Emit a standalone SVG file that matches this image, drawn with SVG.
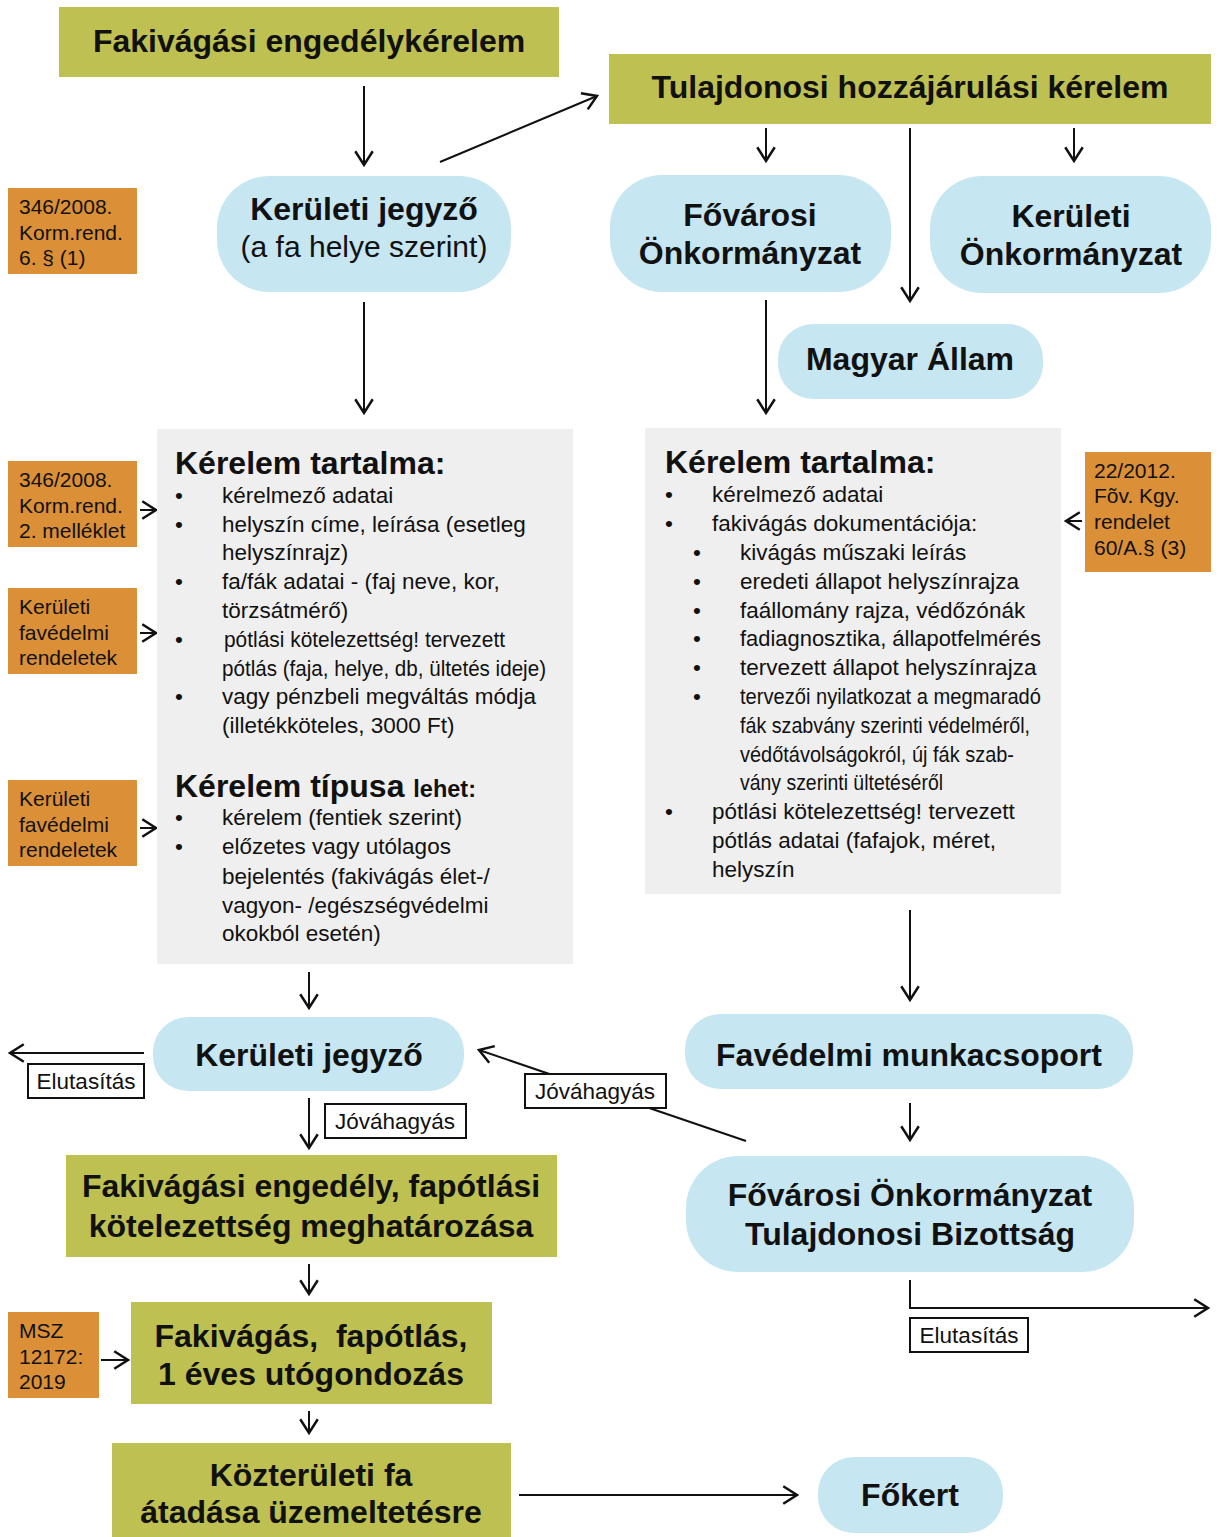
<svg xmlns="http://www.w3.org/2000/svg" width="1220" height="1537" viewBox="0 0 1220 1537">
<defs>
<marker id="ah" markerUnits="userSpaceOnUse" markerWidth="20" markerHeight="20" viewBox="-12 -8 14 16" refX="0" refY="0" orient="auto">
<path d="M-11,-7 L0,0 L-11,7" fill="none" stroke="#111" stroke-width="2"/>
</marker>
<style>
text{font-family:"Liberation Sans",Arial,sans-serif;fill:#111}
.g{fill:#BEC152}
.b{fill:#C6E6F2}
.o{fill:#DB8F37}
.gr{fill:#EFEFEF}
.t{font-size:32px;font-weight:bold;text-anchor:middle}
.tr{font-size:30px;text-anchor:middle}
.s{font-size:21px}
.p{font-size:22.5px}
.h{font-size:32px;font-weight:bold}
.lb{fill:#fff;stroke:#111;stroke-width:2}
.lt{font-size:22.5px;text-anchor:middle}
.c{fill:none;stroke:#111;stroke-width:2}
</style>
</defs>

<g id="connectors">
<line class="c" x1="364" y1="86" x2="364" y2="165" marker-end="url(#ah)"/>
<line class="c" x1="440" y1="162" x2="597" y2="96" marker-end="url(#ah)"/>
<line class="c" x1="766" y1="128" x2="766" y2="161" marker-end="url(#ah)"/>
<line class="c" x1="1074" y1="128" x2="1074" y2="161" marker-end="url(#ah)"/>
<line class="c" x1="910" y1="128" x2="910" y2="301" marker-end="url(#ah)"/>
<line class="c" x1="364" y1="302" x2="364" y2="413" marker-end="url(#ah)"/>
<line class="c" x1="766" y1="300" x2="766" y2="413" marker-end="url(#ah)"/>
<line class="c" x1="140" y1="510" x2="156" y2="510" marker-end="url(#ah)"/>
<line class="c" x1="140" y1="633" x2="156" y2="633" marker-end="url(#ah)"/>
<line class="c" x1="140" y1="828" x2="156" y2="828" marker-end="url(#ah)"/>
<line class="c" x1="1082" y1="521" x2="1066" y2="521" marker-end="url(#ah)"/>
<line class="c" x1="309" y1="972" x2="309" y2="1008" marker-end="url(#ah)"/>
<line class="c" x1="910" y1="910" x2="910" y2="1000" marker-end="url(#ah)"/>
<line class="c" x1="144" y1="1053" x2="10" y2="1053" marker-end="url(#ah)"/>
<line class="c" x1="309" y1="1098" x2="309" y2="1148" marker-end="url(#ah)"/>
<line class="c" x1="746" y1="1141" x2="479" y2="1050" marker-end="url(#ah)"/>
<line class="c" x1="910" y1="1103" x2="910" y2="1140" marker-end="url(#ah)"/>
<polyline class="c" points="910,1280 910,1308 1208,1308" marker-end="url(#ah)"/>
<line class="c" x1="309" y1="1264" x2="309" y2="1294" marker-end="url(#ah)"/>
<line class="c" x1="101" y1="1360" x2="128" y2="1360" marker-end="url(#ah)"/>
<line class="c" x1="309" y1="1411" x2="309" y2="1433" marker-end="url(#ah)"/>
<line class="c" x1="519" y1="1495" x2="797" y2="1495" marker-end="url(#ah)"/>
</g>

<g id="n-fakivagasi-kerelem">
<rect class="g" x="59" y="7" width="500" height="70"/>
<text class="t" x="309" y="52">Fakivágási engedélykérelem</text>
</g>
<g id="n-tulajdonosi-kerelem">
<rect class="g" x="609" y="54" width="602" height="70"/>
<text class="t" x="910" y="98">Tulajdonosi hozzájárulási kérelem</text>
</g>
<g id="n-ref-1">
<rect class="o" x="8" y="188" width="129" height="86"/>
<text class="s" x="19" y="214">346/2008.</text>
<text class="s" x="19" y="240">Korm.rend.</text>
<text class="s" x="19" y="265">6. § (1)</text>
</g>
<g id="n-keruleti-jegyzo-1">
<rect class="b" x="217" y="176" width="294" height="116" rx="52"/>
<text class="t" x="364" y="220">Kerületi jegyző</text>
<text class="tr" x="364" y="257">(a fa helye szerint)</text>
</g>
<g id="n-fovarosi-onk">
<rect class="b" x="610" y="175" width="281" height="117" rx="52"/>
<text class="t" x="750" y="226">Fővárosi</text>
<text class="t" x="750" y="264">Önkormányzat</text>
</g>
<g id="n-keruleti-onk">
<rect class="b" x="930" y="176" width="281" height="117" rx="52"/>
<text class="t" x="1071" y="227">Kerületi</text>
<text class="t" x="1071" y="265">Önkormányzat</text>
</g>
<g id="n-magyar-allam">
<rect class="b" x="778" y="324" width="265" height="75" rx="35"/>
<text class="t" x="910" y="370">Magyar Állam</text>
</g>

<g id="n-kerelem-bal">
<rect class="gr" x="157" y="429" width="416" height="535"/>
<text class="h" x="175" y="474">Kérelem tartalma:</text>
<text class="p" x="175" y="503">•</text><text class="p" x="222" y="503">kérelmező adatai</text>
<text class="p" x="175" y="532">•</text><text class="p" x="222" y="532">helyszín címe, leírása (esetleg</text>
<text class="p" x="222" y="560">helyszínrajz)</text>
<text class="p" x="175" y="589">•</text><text class="p" x="222" y="589">fa/fák adatai - (faj neve, kor,</text>
<text class="p" x="222" y="618">törzsátmérő)</text>
<text class="p" x="175" y="647">•</text><text class="p" x="224" y="647" textLength="281" lengthAdjust="spacingAndGlyphs">pótlási kötelezettség! tervezett</text>
<text class="p" x="222" y="676" textLength="324" lengthAdjust="spacingAndGlyphs">pótlás (faja, helye, db, ültetés ideje)</text>
<text class="p" x="175" y="704">•</text><text class="p" x="222" y="704">vagy pénzbeli megváltás módja</text>
<text class="p" x="222" y="733">(illetékköteles, 3000 Ft)</text>
<text class="h" x="175" y="797">Kérelem típusa <tspan style="font-size:23.5px">lehet:</tspan></text>
<text class="p" x="175" y="825">•</text><text class="p" x="222" y="825">kérelem (fentiek szerint)</text>
<text class="p" x="175" y="854">•</text><text class="p" x="222" y="854">előzetes vagy utólagos</text>
<text class="p" x="222" y="884">bejelentés (fakivágás élet-/</text>
<text class="p" x="222" y="913">vagyon- /egészségvédelmi</text>
<text class="p" x="222" y="941">okokból esetén)</text>
</g>

<g id="n-kerelem-jobb">
<rect class="gr" x="645" y="428" width="416" height="466"/>
<text class="h" x="665" y="473">Kérelem tartalma:</text>
<text class="p" x="665" y="502">•</text><text class="p" x="712" y="502">kérelmező adatai</text>
<text class="p" x="665" y="531">•</text><text class="p" x="712" y="531">fakivágás dokumentációja:</text>
<text class="p" x="693" y="560">•</text><text class="p" x="740" y="560">kivágás műszaki leírás</text>
<text class="p" x="693" y="589">•</text><text class="p" x="740" y="589">eredeti állapot helyszínrajza</text>
<text class="p" x="693" y="618">•</text><text class="p" x="740" y="618">faállomány rajza, védőzónák</text>
<text class="p" x="693" y="646">•</text><text class="p" x="740" y="646" textLength="301" lengthAdjust="spacingAndGlyphs">fadiagnosztika, állapotfelmérés</text>
<text class="p" x="693" y="675">•</text><text class="p" x="740" y="675">tervezett állapot helyszínrajza</text>
<text class="p" x="693" y="704">•</text><text class="p" x="740" y="704" textLength="301" lengthAdjust="spacingAndGlyphs">tervezői nyilatkozat a megmaradó</text>
<text class="p" x="740" y="733" textLength="290" lengthAdjust="spacingAndGlyphs">fák szabvány szerinti védelméről,</text>
<text class="p" x="740" y="762" textLength="274" lengthAdjust="spacingAndGlyphs">védőtávolságokról, új fák szab-</text>
<text class="p" x="740" y="790" textLength="203" lengthAdjust="spacingAndGlyphs">vány szerinti ültetéséről</text>
<text class="p" x="665" y="819">•</text><text class="p" x="712" y="819">pótlási kötelezettség! tervezett</text>
<text class="p" x="712" y="848">pótlás adatai (fafajok, méret,</text>
<text class="p" x="712" y="877">helyszín</text>
</g>

<g id="n-ref-2">
<rect class="o" x="8" y="461" width="129" height="86"/>
<text class="s" x="19" y="487">346/2008.</text>
<text class="s" x="19" y="513">Korm.rend.</text>
<text class="s" x="19" y="538">2. melléklet</text>
</g>
<g id="n-ref-3">
<rect class="o" x="8" y="588" width="129" height="86"/>
<text class="s" x="19" y="614">Kerületi</text>
<text class="s" x="19" y="640">favédelmi</text>
<text class="s" x="19" y="665">rendeletek</text>
</g>
<g id="n-ref-4">
<rect class="o" x="8" y="780" width="129" height="86"/>
<text class="s" x="19" y="806">Kerületi</text>
<text class="s" x="19" y="832">favédelmi</text>
<text class="s" x="19" y="857">rendeletek</text>
</g>
<g id="n-ref-5">
<rect class="o" x="1085" y="452" width="126" height="120"/>
<text class="s" x="1094" y="478">22/2012.</text>
<text class="s" x="1094" y="503">Fõv. Kgy.</text>
<text class="s" x="1094" y="529">rendelet</text>
<text class="s" x="1094" y="555">60/A.§ (3)</text>
</g>

<g id="n-keruleti-jegyzo-2">
<rect class="b" x="153" y="1017" width="311" height="74" rx="35"/>
<text class="t" x="309" y="1066">Kerületi jegyző</text>
</g>
<g id="n-favedelmi">
<rect class="b" x="685" y="1014" width="448" height="75" rx="35"/>
<text class="t" x="909" y="1066">Favédelmi munkacsoport</text>
</g>
<g id="n-engedely">
<rect class="g" x="66" y="1155" width="491" height="102"/>
<text class="t" x="311" y="1197">Fakivágási engedély, fapótlási</text>
<text class="t" x="311" y="1237">kötelezettség meghatározása</text>
</g>
<g id="n-bizottsag">
<rect class="b" x="686" y="1156" width="448" height="116" rx="52"/>
<text class="t" x="910" y="1206">Fővárosi Önkormányzat</text>
<text class="t" x="910" y="1245">Tulajdonosi Bizottság</text>
</g>
<g id="n-ref-6">
<rect class="o" x="8" y="1312" width="91" height="86"/>
<text class="s" x="19" y="1338">MSZ</text>
<text class="s" x="19" y="1364">12172:</text>
<text class="s" x="19" y="1389">2019</text>
</g>
<g id="n-fakivagas">
<rect class="g" x="131" y="1302" width="361" height="102"/>
<text class="t" x="311" y="1347" xml:space="preserve">Fakivágás,  fapótlás,</text>
<text class="t" x="311" y="1385">1 éves utógondozás</text>
</g>
<g id="n-atadas">
<rect class="g" x="112" y="1443" width="399" height="94"/>
<text class="t" x="311" y="1486">Közterületi fa</text>
<text class="t" x="311" y="1523">átadása üzemeltetésre</text>
</g>
<g id="n-fokert">
<rect class="b" x="818" y="1457" width="185" height="76" rx="36"/>
<text class="t" x="910" y="1506">Főkert</text>
</g>

<g id="labels">
<rect class="lb" x="28" y="1064" width="116" height="34"/>
<text class="lt" x="86" y="1089">Elutasítás</text>
<rect class="lb" x="325" y="1104" width="141" height="34"/>
<text class="lt" x="395" y="1129">Jóváhagyás</text>
<rect class="lb" x="525" y="1074" width="141" height="34"/>
<text class="lt" x="595" y="1099">Jóváhagyás</text>
<rect class="lb" x="910" y="1318" width="118" height="34"/>
<text class="lt" x="969" y="1343">Elutasítás</text>
</g>
</svg>
